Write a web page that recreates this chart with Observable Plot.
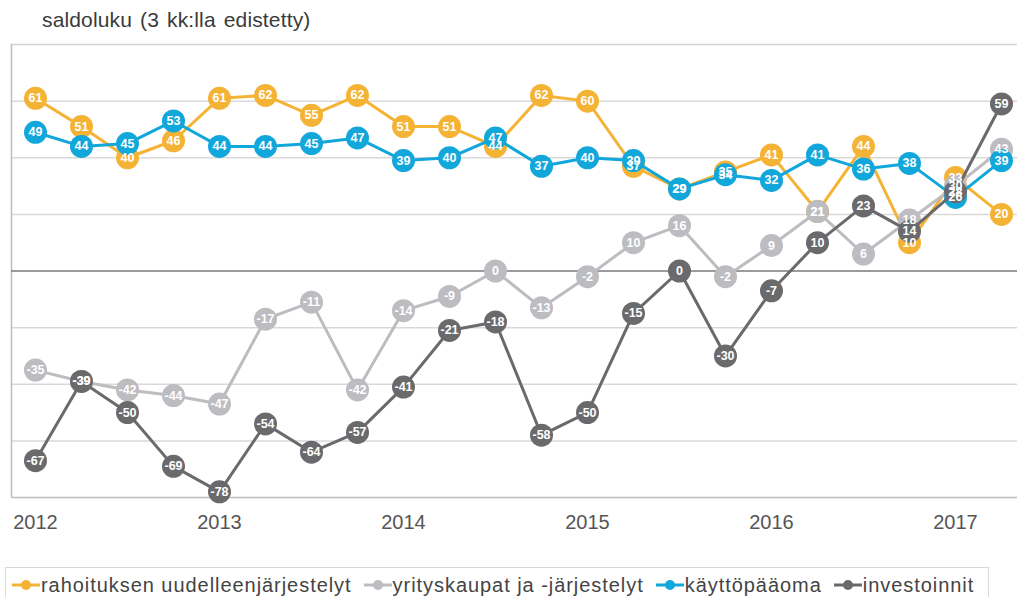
<!DOCTYPE html>
<html>
<head>
<meta charset="utf-8">
<script src="https://cdn.jsdelivr.net/npm/d3@7"></script>
<script src="https://cdn.jsdelivr.net/npm/@observablehq/plot@0.6"></script>
<style>
  html, body { margin: 0; padding: 0; background: #fff; }
  body { font-family: "Liberation Sans", Arial, Helvetica, sans-serif; }
  #wrap { position: relative; width: 1017px; height: 597px; overflow: hidden; background: #fff; }
  #title { position: absolute; left: 42px; top: 8px; font-size: 21px; letter-spacing: 0.15px; word-spacing: 2px; color: #3a3a3a; white-space: nowrap; }
  #chart { position: absolute; left: 0; top: 36px; }
  #legend { position: absolute; left: 5px; top: 567px; width: 984px; height: 36px; box-sizing: border-box;
            border: 1px solid #d9d9d9; display: flex; align-items: center; padding-left: 6px; gap: 12px; }
  .item { display: flex; align-items: center; font-size: 20px; letter-spacing: 0.95px; color: #444; white-space: nowrap; }
  .item svg { margin-right: 1px; }
</style>
</head>
<body>
<div id="wrap">
  <div id="title"></div>
  <div id="chart"></div>
  <div id="legend"></div>
</div>
<script>
const titleText = "saldoluku (3 kk:lla edistetty)";
const periods = ["2012Q1","2012Q2","2012Q3","2012Q4","2013Q1","2013Q2","2013Q3","2013Q4",
                 "2014Q1","2014Q2","2014Q3","2014Q4","2015Q1","2015Q2","2015Q3","2015Q4",
                 "2016Q1","2016Q2","2016Q3","2016Q4","2017Q1","2017Q2"];
const yearTicks = ["2012","2013","2014","2015","2016","2017"];
const seriesNames = ["rahoituksen uudelleenjärjestelyt","yrityskaupat ja -järjestelyt","käyttöpääoma","investoinnit"];
const seriesColors = ["#F5B335","#BCBCC1","#12A7DB","#6A6A6D"];
const rahoitus = [61,51,40,46,61,62,55,62,51,51,44,62,60,37,29,35,41,21,44,10,33,20];
const yritys   = [-35,-39,-42,-44,-47,-17,-11,-42,-14,-9,0,-13,-2,10,16,-2,9,21,6,18,30,43];
const kaytto   = [49,44,45,53,44,44,45,47,39,40,47,37,40,39,29,34,32,41,36,38,26,39];
const invest   = [-67,-39,-50,-69,-78,-54,-64,-57,-41,-21,-18,-58,-50,-15,0,-30,-7,10,23,14,28,59];
const gridValues = [-60,-40,-20,20,40,60];

document.getElementById("title").textContent = titleText;

const allSeries = [rahoitus, yritys, kaytto, invest];
const data = [];
allSeries.forEach((vals, s) => vals.forEach((v, i) => data.push({s: seriesNames[s], i, p: periods[i], v})));

const W = 1017, H = 500, mL = 11, mR = 0, mT = 8, mB = 39;
const firstX = 35, step = 46;
const xmin = (mL - firstX) / step;
const xmax = (W - mR - firstX) / step;
const tickIdx = periods.map((p, i) => p.endsWith("Q1") ? i : null).filter(d => d !== null);

const marks = [
  Plot.ruleY(gridValues, {stroke: "#d9d9d9", strokeWidth: 1.5}),
  Plot.ruleY([80], {stroke: "#d3d3d3", strokeWidth: 1.5}),
  Plot.ruleY([-80], {stroke: "#bdbdbd", strokeWidth: 1.5}),
  Plot.ruleX([xmin], {stroke: "#bdbdbd", strokeWidth: 1.5}),
  Plot.ruleY([0], {stroke: "#7a7a7a", strokeWidth: 1.5})
];
seriesNames.forEach((name, s) => {
  const sub = data.filter(d => d.s === name);
  marks.push(Plot.line(sub, {x: "i", y: "v", stroke: seriesColors[s], strokeWidth: 3}));
  marks.push(Plot.dot(sub, {x: "i", y: "v", r: 11.5, fill: seriesColors[s], stroke: "none"}));
});
marks.push(Plot.text(data, {x: "i", y: "v", text: d => String(d.v), fill: "white",
  fontSize: 12.5, fontWeight: "bold"}));
marks.push(Plot.axisX(tickIdx, {tickFormat: d => yearTicks[tickIdx.indexOf(d)], tickSize: 0,
  tickPadding: 17, fontSize: 20, fill: "#555", label: null}));

const chart = Plot.plot({
  width: W, height: H,
  marginLeft: mL, marginRight: mR, marginTop: mT, marginBottom: mB,
  x: {type: "linear", domain: [xmin, xmax], range: [mL, W - mR]},
  y: {domain: [-80, 80], axis: null},
  style: {fontFamily: "'Liberation Sans', Arial, sans-serif", background: "white", overflow: "visible"},
  marks
});
document.getElementById("chart").appendChild(chart);

const legend = document.getElementById("legend");
seriesNames.forEach((name, s) => {
  const it = document.createElement("div");
  it.className = "item";
  it.innerHTML = `<svg width="28" height="14"><line x1="0" y1="7" x2="28" y2="7" stroke="${seriesColors[s]}" stroke-width="3"/><circle cx="14" cy="7" r="5" fill="${seriesColors[s]}"/></svg><span></span>`;
  it.querySelector("span").textContent = name;
  legend.appendChild(it);
});
</script>
</body>
</html>
